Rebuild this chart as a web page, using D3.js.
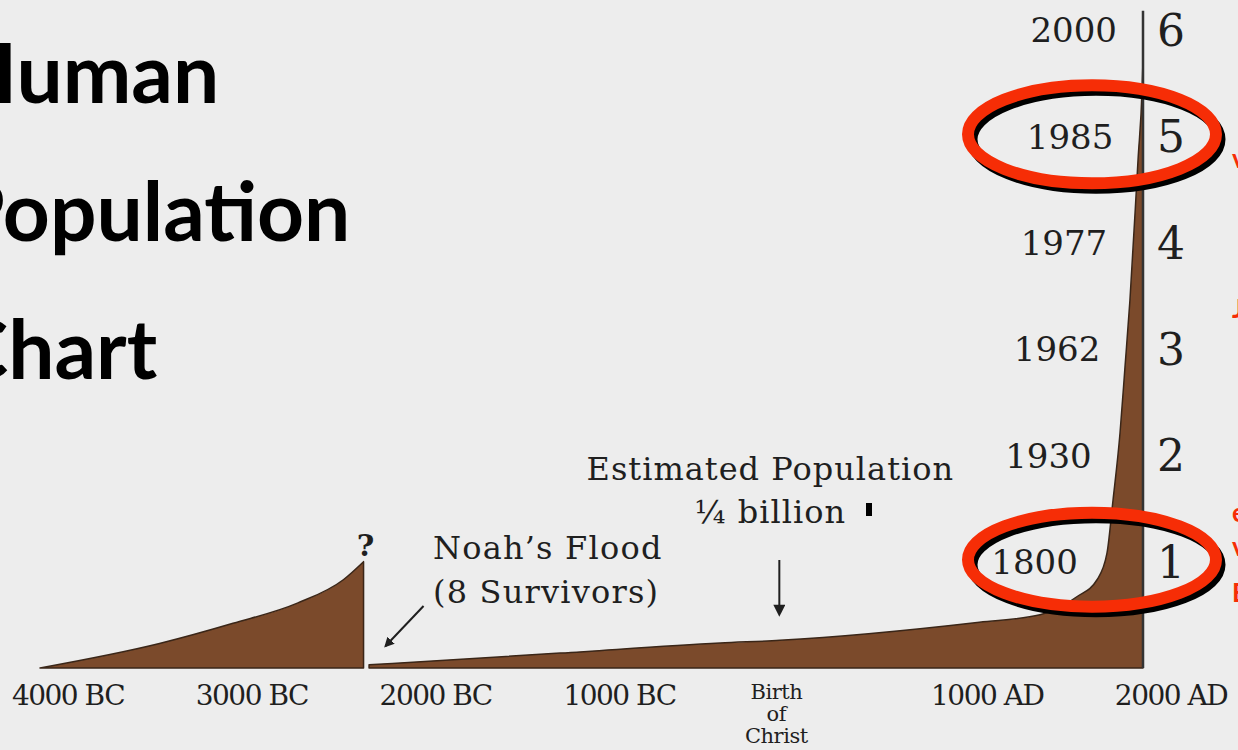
<!DOCTYPE html>
<html>
<head>
<meta charset="utf-8">
<script src="https://cdn.jsdelivr.net/npm/d3@7"></script>
<style>
  body { margin: 0; background: #ededed; }
  svg { display: block; }
</style>
</head>
<body>
<div id="chart"></div>
<script>
// population (billions), before and after the flood
var preFloodYears = [-4000, -3350, -2950, -2600, -2350, -2240];
var preFloodPop   = [0, 0.23, 0.42, 0.61, 0.83, 1.0];

var postFloodYears = [-2210, -1170, -300, 25, 1110, 1440, 1640, 1750, 1804, 1837, 1875, 1902, 1929, 1973, 1995, 2000];
var postFloodPop   = [0.03, 0.14, 0.235, 0.26, 0.43, 0.50, 0.67, 0.83, 1.08, 1.58, 2.21, 2.83, 3.46, 4.78, 5.44, 5.72];

// x axis
var tickYears  = [-4000, -3000, -2000, -1000, 1000, 2000];
var tickLabels = ["4000 BC", "3000 BC", "2000 BC", "1000 BC", "1000 AD", "2000 AD"];
var birthLabel = ["Birth", "of", "Christ"];

// right hand scale: billions and the year each was reached
var billions  = [1, 2, 3, 4, 5, 6];
var yearsHit  = ["1800", "1930", "1962", "1977", "1985", "2000"];
var circled   = [1, 5];

var titleLines = ["Human", "Population", "Chart"];

var width = 1238, height = 750;
var floodYear = -2240;

var svg = d3.select("#chart").append("svg")
    .attr("width", width)
    .attr("height", height);

svg.append("rect")
    .attr("width", width).attr("height", height)
    .attr("fill", "#ededed");

var x = d3.scaleLinear().domain([-4000, 2000]).range([40, 1143]);
var y = d3.scaleLinear().domain([0, 6]).range([668, 30]);

var serif = "'DejaVu Serif', 'Liberation Serif', serif";
var ink = "#1f1f1f";

// title
svg.selectAll(".title")
    .data(titleLines)
    .enter().append("text")
    .attr("class", "title")
    .attr("x", -46)
    .attr("y", function(d, i) { return 103 + i * 138; })
    .style("font-family", "Lato, 'Open Sans', sans-serif")
    .style("font-weight", 700)
    .style("font-size", "82px")
    .style("fill", "#000")
    .text(function(d) { return d; });

var area = d3.area()
    .x(function(d) { return x(d[0]); })
    .y0(y(0))
    .y1(function(d) { return y(d[1]); })
    .curve(d3.curveMonotoneX);

var pre = preFloodYears.map(function(v, i) { return [v, preFloodPop[i]]; });
var post = postFloodYears.map(function(v, i) { return [v, postFloodPop[i]]; });

svg.selectAll(".pop")
    .data([pre, post])
    .enter().append("path")
    .attr("class", "pop")
    .attr("d", area)
    .attr("fill", "#7b4a2b")
    .attr("stroke", "#3a2618")
    .attr("stroke-width", 1.5)
    .attr("stroke-linejoin", "round");

// vertical line at 2000
svg.append("line")
    .attr("x1", x(2000)).attr("x2", x(2000))
    .attr("y1", y(0)).attr("y2", y(6.18))
    .attr("stroke", "#333")
    .attr("stroke-width", 2.5);

// x labels
svg.selectAll(".xlab")
    .data(tickYears)
    .enter().append("text")
    .attr("class", "xlab")
    .attr("x", function(d) { return x(d) + 28; })
    .attr("y", 705)
    .attr("text-anchor", "middle")
    .style("font-family", serif)
    .style("font-size", "28px")
    .style("letter-spacing", "-1.5px")
    .style("fill", ink)
    .text(function(d, i) { return tickLabels[i]; });

svg.selectAll(".birth")
    .data(birthLabel)
    .enter().append("text")
    .attr("class", "birth")
    .attr("x", x(0) + 1)
    .attr("y", function(d, i) { return 699 + i * 22; })
    .attr("text-anchor", "middle")
    .style("font-family", serif)
    .style("font-size", "21px")
    .style("letter-spacing", "-0.5px")
    .style("fill", ink)
    .text(function(d) { return d; });

// x position of the curve at a given population, for the year labels
function curveX(b) {
    for (var i = 1; i < post.length; i++) {
        if (post[i][1] >= b) {
            var t = (b - post[i - 1][1]) / (post[i][1] - post[i - 1][1]);
            return x(post[i - 1][0] + t * (post[i][0] - post[i - 1][0]));
        }
    }
    return x(2000);
}

// red circles (drawn under the labels)
var rings = svg.selectAll(".ring")
    .data(circled)
    .enter().append("g")
    .attr("class", "ring");

rings.append("ellipse")
    .attr("cx", 1096).attr("cy", function(d) { return y(d) + 3; })
    .attr("rx", 124).attr("ry", function(d) { return d == 5 ? 49 : 47; })
    .attr("fill", "none")
    .attr("stroke", "#000")
    .attr("stroke-width", 11);

rings.append("ellipse")
    .attr("cx", 1092).attr("cy", function(d) { return y(d) - 2; })
    .attr("rx", 124).attr("ry", function(d) { return d == 5 ? 49 : 47; })
    .attr("fill", "none")
    .attr("stroke", "#f62d06")
    .attr("stroke-width", 12);

// year labels left of the curve
svg.selectAll(".year")
    .data(billions)
    .enter().append("text")
    .attr("class", "year")
    .attr("x", function(d) { return Math.min(curveX(d), x(2000)) - 26; })
    .attr("y", function(d) { return y(d); })
    .attr("dy", "0.36em")
    .attr("text-anchor", "end")
    .style("font-family", serif)
    .style("font-size", "34px")
    .style("fill", ink)
    .text(function(d, i) { return yearsHit[i]; });

// billions
svg.selectAll(".bil")
    .data(billions)
    .enter().append("text")
    .attr("class", "bil")
    .attr("x", x(2000) + 14)
    .attr("y", function(d) { return y(d); })
    .attr("dy", "0.36em")
    .style("font-family", serif)
    .style("font-size", "44px")
    .style("fill", ink)
    .text(function(d) { return d; });

// flood annotation
svg.append("text")
    .attr("x", x(floodYear) + 2)
    .attr("y", 556)
    .attr("text-anchor", "middle")
    .style("font-family", serif)
    .style("font-weight", "bold")
    .style("font-size", "30px")
    .style("fill", ink)
    .text("?");

svg.selectAll(".flood")
    .data(["Noah\u2019s Flood", "(8 Survivors)"])
    .enter().append("text")
    .attr("class", "flood")
    .attr("x", 433)
    .attr("y", function(d, i) { return 559 + i * 44; })
    .style("font-family", serif)
    .style("font-size", "32px")
    .style("letter-spacing", "1.2px")
    .style("fill", ink)
    .text(function(d) { return d; });

var defs = svg.append("defs");
defs.append("marker")
    .attr("id", "head")
    .attr("viewBox", "0 0 10 10")
    .attr("refX", 8).attr("refY", 5)
    .attr("markerWidth", 5).attr("markerHeight", 5)
    .attr("orient", "auto")
    .append("path")
    .attr("d", "M0,0L10,5L0,10z")
    .attr("fill", ink);

defs.append("marker")
    .attr("id", "bighead")
    .attr("viewBox", "0 0 10 10")
    .attr("refX", 6).attr("refY", 5)
    .attr("markerWidth", 7).attr("markerHeight", 6)
    .attr("orient", "auto")
    .append("path")
    .attr("d", "M0,0L10,5L0,10z")
    .attr("fill", ink);

svg.append("line")
    .attr("x1", x(floodYear) + 60).attr("y1", y(0) - 62)
    .attr("x2", x(floodYear) + 22).attr("y2", y(0) - 22)
    .attr("stroke", ink)
    .attr("stroke-width", 2)
    .attr("marker-end", "url(#head)");

// birth of christ annotation
svg.selectAll(".est")
    .data(["Estimated Population", "\u00BC billion"])
    .enter().append("text")
    .attr("class", "est")
    .attr("x", x(0) - 5)
    .attr("y", function(d, i) { return 480 + i * 43; })
    .attr("text-anchor", "middle")
    .style("font-family", serif)
    .style("font-size", "32px")
    .style("letter-spacing", "1px")
    .style("fill", ink)
    .text(function(d) { return d; });

svg.append("rect")
    .attr("x", 866).attr("y", 503)
    .attr("width", 6).attr("height", 13)
    .attr("fill", "#000");

svg.append("line")
    .attr("x1", x(0) + 4).attr("y1", 560)
    .attr("x2", x(0) + 4).attr("y2", 612)
    .attr("stroke", ink)
    .attr("stroke-width", 2)
    .attr("marker-end", "url(#bighead)");

// red text cut off at the right edge
svg.selectAll(".cut")
    .data([[168, "v"], [318, "J"], [522, "e"], [556, "v"], [602, "E"]])
    .enter().append("text")
    .attr("class", "cut")
    .attr("x", 1232)
    .attr("y", function(d) { return d[0]; })
    .style("font-family", "Lato, sans-serif")
    .style("font-weight", 700)
    .style("font-size", "26px")
    .style("fill", "#f62d06")
    .text(function(d) { return d[1]; });
</script>
</body>
</html>
